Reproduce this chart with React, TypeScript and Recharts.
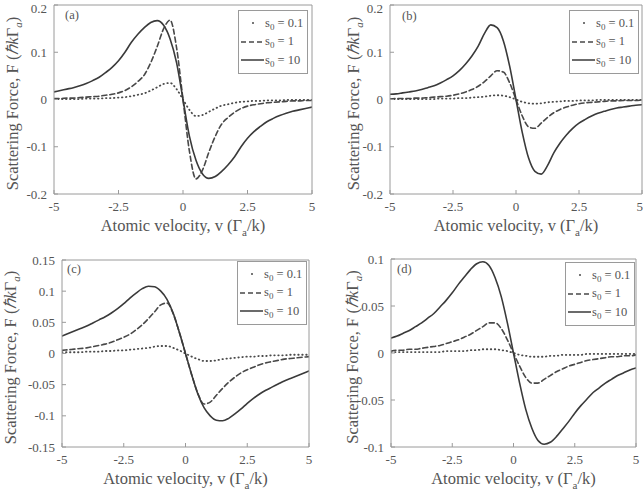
import { LineChart, Line, XAxis, YAxis, Legend } from 'recharts'

const SERIF = '"Liberation Serif", "Times New Roman", serif'
const FRAME = '#9a9a9a'
const TEXT = '#555'

// atomic velocity grid, v (Γa/k)
const V = [-5, -4.75, -4.5, -4.25, -4, -3.75, -3.5, -3.25, -3, -2.75, -2.5, -2.25, -2, -1.75, -1.5, -1.25, -1, -0.75, -0.5, -0.25, 0,
  0.25, 0.5, 0.75, 1, 1.25, 1.5, 1.75, 2, 2.25, 2.5, 2.75, 3, 3.25, 3.5, 3.75, 4, 4.25, 4.5, 4.75, 5]

const X_TICKS = [-5, -2.5, 0, 2.5, 5]
const Y_TICKS_AB = [-0.2, -0.1, 0, 0.1, 0.2]
const Y_TICKS_C = [-0.15, -0.1, -0.05, 0, 0.05, 0.1, 0.15]
const Y_TICKS_D = [-0.1, -0.05, 0, 0.05, 0.1]

// panel (a)
const A_S01 = [0.001, 0.001, 0.001, 0.001, 0.001, 0.002, 0.002, 0.002, 0.003, 0.003, 0.004, 0.005, 0.007, 0.010, 0.013, 0.019, 0.026, 0.033, 0.035, 0.022, 0,
  -0.022, -0.035, -0.033, -0.026, -0.019, -0.013, -0.010, -0.007, -0.005, -0.004, -0.003, -0.003, -0.002, -0.002, -0.002, -0.001, -0.001, -0.001, -0.001, -0.001]
const A_S1 = [0.002, 0.002, 0.003, 0.003, 0.004, 0.005, 0.006, 0.007, 0.009, 0.011, 0.014, 0.019, 0.027, 0.038, 0.052, 0.078, 0.112, 0.150, 0.168, 0.110, 0,
  -0.110, -0.168, -0.150, -0.112, -0.078, -0.052, -0.038, -0.027, -0.019, -0.014, -0.011, -0.009, -0.007, -0.006, -0.005, -0.004, -0.003, -0.003, -0.002, -0.002]
const A_S10 = [0.016, 0.019, 0.022, 0.025, 0.029, 0.034, 0.040, 0.047, 0.057, 0.068, 0.082, 0.100, 0.121, 0.138, 0.152, 0.163, 0.167, 0.157, 0.128, 0.078, 0,
  -0.078, -0.128, -0.157, -0.167, -0.163, -0.152, -0.138, -0.121, -0.100, -0.082, -0.068, -0.057, -0.047, -0.040, -0.034, -0.029, -0.025, -0.022, -0.019, -0.016]

// panel (b)
const B_S01 = [0.001, 0.001, 0.001, 0.001, 0.001, 0.001, 0.001, 0.001, 0.002, 0.002, 0.002, 0.003, 0.003, 0.004, 0.005, 0.006, 0.008, 0.009, 0.008, 0.005, 0,
  -0.005, -0.008, -0.009, -0.008, -0.006, -0.005, -0.004, -0.003, -0.003, -0.002, -0.002, -0.002, -0.001, -0.001, -0.001, -0.001, -0.001, -0.001, -0.001, -0.001]
const B_S1 = [0.001, 0.002, 0.002, 0.002, 0.003, 0.003, 0.004, 0.005, 0.006, 0.007, 0.009, 0.012, 0.016, 0.021, 0.028, 0.038, 0.050, 0.061, 0.058, 0.035, 0,
  -0.035, -0.058, -0.061, -0.050, -0.038, -0.028, -0.021, -0.016, -0.012, -0.009, -0.007, -0.006, -0.005, -0.004, -0.003, -0.003, -0.002, -0.002, -0.002, -0.001]
const B_S10 = [0.011, 0.012, 0.014, 0.016, 0.018, 0.021, 0.025, 0.029, 0.035, 0.042, 0.050, 0.061, 0.075, 0.092, 0.113, 0.140, 0.158, 0.152, 0.124, 0.070, 0,
  -0.070, -0.124, -0.152, -0.158, -0.140, -0.113, -0.092, -0.075, -0.061, -0.050, -0.042, -0.035, -0.029, -0.025, -0.021, -0.018, -0.016, -0.014, -0.012, -0.011]

// panel (c)
const C_S01 = [0.002, 0.002, 0.002, 0.002, 0.003, 0.003, 0.003, 0.004, 0.004, 0.005, 0.005, 0.006, 0.007, 0.008, 0.009, 0.011, 0.012, 0.012, 0.009, 0.005, 0,
  -0.005, -0.009, -0.012, -0.012, -0.011, -0.009, -0.008, -0.007, -0.006, -0.005, -0.005, -0.004, -0.004, -0.003, -0.003, -0.003, -0.002, -0.002, -0.002, -0.002]
const C_S1 = [0.005, 0.006, 0.007, 0.008, 0.009, 0.011, 0.013, 0.015, 0.018, 0.022, 0.026, 0.031, 0.038, 0.046, 0.056, 0.067, 0.078, 0.081, 0.064, 0.034, 0,
  -0.034, -0.064, -0.081, -0.078, -0.067, -0.056, -0.046, -0.038, -0.031, -0.026, -0.022, -0.018, -0.015, -0.013, -0.011, -0.009, -0.008, -0.007, -0.006, -0.005]
const C_S10 = [0.028, 0.032, 0.036, 0.040, 0.044, 0.049, 0.054, 0.059, 0.065, 0.072, 0.080, 0.089, 0.097, 0.104, 0.108, 0.107, 0.100, 0.087, 0.065, 0.034, 0,
  -0.034, -0.065, -0.087, -0.100, -0.107, -0.108, -0.104, -0.097, -0.089, -0.080, -0.072, -0.065, -0.059, -0.054, -0.049, -0.044, -0.040, -0.036, -0.032, -0.028]

// panel (d)
const D_S01 = [0.001, 0.001, 0.001, 0.001, 0.001, 0.001, 0.001, 0.001, 0.001, 0.002, 0.002, 0.002, 0.002, 0.003, 0.003, 0.004, 0.004, 0.004, 0.003, 0.002, 0,
  -0.002, -0.003, -0.004, -0.004, -0.004, -0.003, -0.003, -0.002, -0.002, -0.002, -0.002, -0.001, -0.001, -0.001, -0.001, -0.001, -0.001, -0.001, -0.001, -0.001]
const D_S1 = [0.002, 0.003, 0.003, 0.004, 0.004, 0.005, 0.006, 0.007, 0.008, 0.010, 0.012, 0.014, 0.017, 0.020, 0.024, 0.028, 0.032, 0.032, 0.026, 0.014, 0,
  -0.014, -0.026, -0.032, -0.032, -0.028, -0.024, -0.020, -0.017, -0.014, -0.012, -0.010, -0.008, -0.007, -0.006, -0.005, -0.004, -0.004, -0.003, -0.003, -0.002]
const D_S10 = [0.016, 0.018, 0.021, 0.024, 0.028, 0.032, 0.037, 0.042, 0.049, 0.056, 0.064, 0.073, 0.081, 0.089, 0.095, 0.097, 0.093, 0.080, 0.060, 0.032, 0,
  -0.032, -0.060, -0.080, -0.093, -0.097, -0.095, -0.089, -0.081, -0.073, -0.064, -0.056, -0.049, -0.042, -0.037, -0.032, -0.028, -0.024, -0.021, -0.018, -0.016]

const SERIES = [
  { key: 's01', label: '0.1', stroke: '#4a4a4a', width: 1.8, dash: '0.5 3.5' },
  { key: 's1', label: '1', stroke: '#484848', width: 1.6, dash: '5 3' },
  { key: 's10', label: '10', stroke: '#3a3a3a', width: 1.6, dash: undefined },
]

const PANELS = [
  { tag: '(a)', s01: A_S01, s1: A_S1, s10: A_S10, domain: [-0.2, 0.2], ticks: Y_TICKS_AB,
    left: 0, top: 0, w: 330, h: 245, margin: { top: 4, right: 17, left: 0, bottom: 1 }, yw: 54, xh: 50,
    labelDx: 12, legend: { left: 238, top: 10 }, tagPos: { left: 65, top: 8 } },
  { tag: '(b)', s01: B_S01, s1: B_S1, s10: B_S10, domain: [-0.2, 0.2], ticks: Y_TICKS_AB,
    left: 330, top: 0, w: 313, h: 245, margin: { top: 4, right: 0, left: 0, bottom: 1 }, yw: 60, xh: 50,
    labelDx: 23, legend: { left: 239, top: 10 }, tagPos: { left: 402, top: 9 } },
  { tag: '(c)', s01: C_S01, s1: C_S1, s10: C_S10, domain: [-0.15, 0.15], ticks: Y_TICKS_C,
    left: 0, top: 245, w: 330, h: 250, margin: { top: 14, right: 20, left: 0, bottom: 1 }, yw: 62, xh: 47,
    labelDx: 10, legend: { left: 237, top: 16 }, tagPos: { left: 67, top: 262 } },
  { tag: '(d)', s01: D_S01, s1: D_S1, s10: D_S10, domain: [-0.1, 0.1], ticks: Y_TICKS_D,
    left: 330, top: 245, w: 313, h: 250, margin: { top: 13, right: 6, left: 0, bottom: 1 }, yw: 61, xh: 47,
    labelDx: 22, legend: { left: 235, top: 17 }, tagPos: { left: 397, top: 262 } },
]

const tickStyle = { fill: TEXT, fontSize: 13, fontFamily: SERIF }

function XTitle(props: any) {
  const { x, y, width } = props.viewBox
  return (
    <text x={x + width / 2} y={y + 37} textAnchor="middle" fill={TEXT} fontSize={16.5} fontFamily={SERIF}>
      Atomic velocity, v (Γ<tspan fontSize={11} dy={5}>a</tspan><tspan dy={-5}>/k)</tspan>
    </text>
  )
}

const yTitle = (dx: number) => (props: any) => {
  const { x, y, height } = props.viewBox
  const cx = x + dx
  const cy = y + height / 2 + 4
  return (
    <text transform={`rotate(-90 ${cx} ${cy})`} x={cx} y={cy + 6} textAnchor="middle" fill={TEXT} fontSize={16.5} fontFamily={SERIF}>
      Scattering Force, F (<tspan fontStyle="italic">ℏk</tspan>Γ<tspan fontSize={11} dy={4} fontStyle="italic">a</tspan><tspan dy={-4}>)</tspan>
    </text>
  )
}

function LegendBox() {
  return (
    <div style={{ border: `1px solid ${FRAME}`, background: '#fff', width: 68, padding: '3px 0', fontFamily: SERIF, fontSize: 12.5, color: TEXT }}>
      {SERIES.map((s) => (
        <div key={s.key} style={{ display: 'flex', alignItems: 'center', height: 18.5 }}>
          <svg width={26} height={10} style={{ flex: 'none' }}>
            {s.key === 's01'
              ? <circle cx={14} cy={5} r={1} fill={s.stroke} />
              : <line x1={2} x2={25} y1={5} y2={5} stroke={s.stroke} strokeWidth={1.5} strokeDasharray={s.dash} />}
          </svg>
          <span style={{ whiteSpace: 'nowrap' }}>
            s<span style={{ fontSize: 9, position: 'relative', top: 3 }}>0</span> = {s.label}
          </span>
        </div>
      ))}
    </div>
  )
}

function Panel({ p }: { p: any }) {
  const data = V.map((v, i) => ({ v, s01: p.s01[i], s1: p.s1[i], s10: p.s10[i] }))
  return (
    <div style={{ position: 'absolute', left: p.left, top: p.top }}>
      <LineChart width={p.w} height={p.h} data={data} margin={p.margin}>
        <XAxis dataKey="v" type="number" domain={[-5, 5]} ticks={X_TICKS} allowDataOverflow
          height={p.xh} stroke={FRAME} tickSize={-4} tickMargin={12} tick={tickStyle}
          tickFormatter={(t: number) => String(t)} label={XTitle} />
        <XAxis xAxisId="top" orientation="top" type="number" domain={[-5, 5]} ticks={X_TICKS} allowDataOverflow
          height={1} stroke={FRAME} tickSize={-4} tick={false} />
        <YAxis type="number" domain={p.domain} ticks={p.ticks} allowDataOverflow width={p.yw}
          stroke={FRAME} tickSize={-4} tickMargin={11} tick={tickStyle}
          tickFormatter={(t: number) => String(t)} label={yTitle(p.labelDx)} />
        <YAxis yAxisId="right" orientation="right" type="number" domain={p.domain} ticks={p.ticks} allowDataOverflow
          width={1} stroke={FRAME} tickSize={-4} tick={false} />
        <Legend layout="horizontal" verticalAlign="middle" align="center" content={() => <LegendBox />}
          wrapperStyle={{ left: p.legend.left, top: p.legend.top, width: 'auto' }} />
        {SERIES.map((s) => (
          <Line key={s.key} dataKey={s.key} type="monotone" dot={false} activeDot={false}
            stroke={s.stroke} strokeWidth={s.width} strokeDasharray={s.dash} strokeLinecap="round"
            isAnimationActive={false} />
        ))}
      </LineChart>
    </div>
  )
}

export default function App() {
  return (
    <div style={{ position: 'absolute', left: 0, top: 0, width: 643, height: 495, background: '#fff', overflow: 'hidden' }}>
      {PANELS.map((p) => <Panel key={p.tag} p={p} />)}
      {PANELS.map((p) => (
        <div key={p.tag + 't'} style={{ position: 'absolute', left: p.tagPos.left, top: p.tagPos.top, fontFamily: SERIF, fontSize: 12.5, color: TEXT }}>
          {p.tag}
        </div>
      ))}
    </div>
  )
}
